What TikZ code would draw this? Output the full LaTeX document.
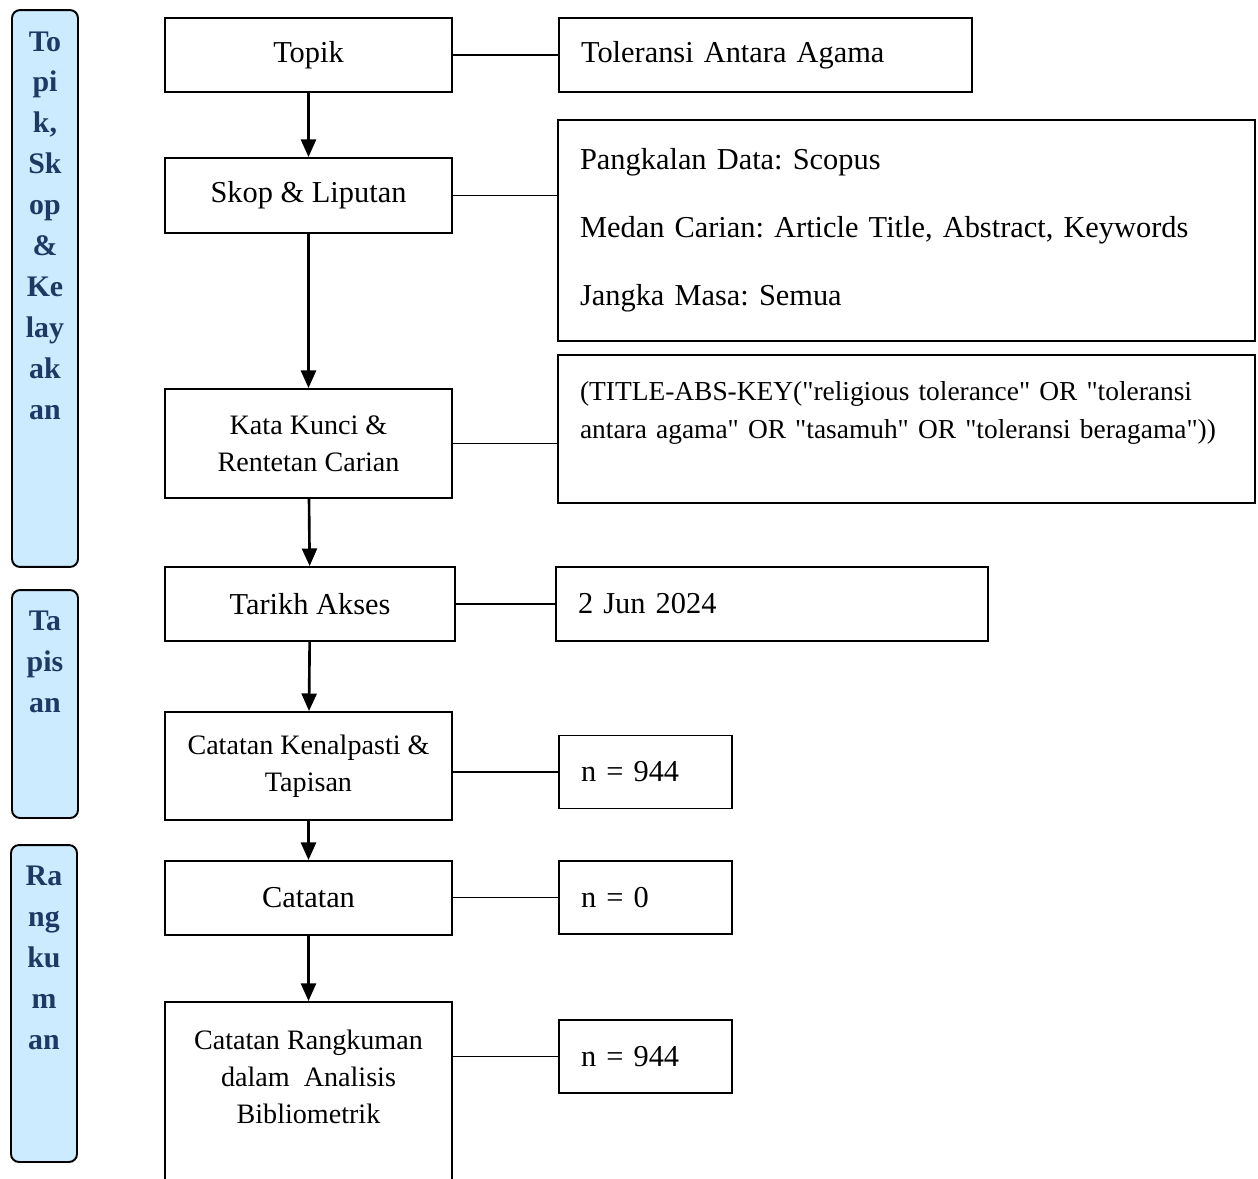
\documentclass[tikz,border=0pt]{standalone}
\usepackage{fontspec}
\setmainfont{Liberation Serif}
\newfontfamily\plainquotes{Liberation Serif}[Ligatures=TeXOff]
\usetikzlibrary{arrows.meta,positioning}
\definecolor{tagfill}{HTML}{CCEBFF}
\definecolor{tagtext}{HTML}{1F3864}
\newcommand{\bigfont}{\fontsize{17.3}{20.8}\selectfont\frenchspacing}
\newcommand{\midfont}{\fontsize{16}{21}\selectfont}

\begin{document}
\begin{tikzpicture}[x=0.02cm,y=-0.02cm,
    box/.style={draw,line width=1.1pt,align=center,minimum width=5.74cm,inner sep=0pt},
    rbox/.style={draw,line width=1.1pt,align=left,inner xsep=0.44cm,inner ysep=0pt,font=\bigfont},
    tag/.style={draw,line width=1.1pt,fill=tagfill,rounded corners=0.16cm,minimum width=1.32cm},
    tagtxt/.style={align=center,inner sep=0pt,text=tagtext,font=\bfseries\fontsize{17}{23.3}\selectfont},
    arr/.style={-{Triangle[length=10pt,width=8.5pt]},line width=1.5pt},
    conn/.style={line width=1pt}]
	   \useasboundingbox (0,0) rectangle (1258,1178);
	   % stages on the left
	   \node (s1) at (45,288.5) [tag,minimum height=11.14cm] {};
	   \node (s1txt) [tagtxt,below=0.44cm of s1.north]
	     {To\\pi\\k,\\Sk\\op\\\&\\Ke\\lay\\ak\\an};
	   \node (s2) at (45,704) [tag,minimum height=4.56cm] {};
	   \node (s2txt) [tagtxt,below=0.44cm of s2.north] {Ta\\pis\\an};
	   \node (s3) at (44,1003.5) [tag,minimum height=6.34cm] {};
	   \node (s3txt) [tagtxt,below=0.44cm of s3.north] {Ra\\ng\\ku\\m\\an};
	   % main steps
	   \node (t1) at (308.5,55) [box,minimum height=1.48cm,font=\bigfont] {Topik};
	   \node (t2) at (308.5,195.5) [box,minimum height=1.5cm,font=\bigfont] {Skop \& Liputan};
	   \node (t3) at (308.5,443.5) [box,minimum height=2.18cm,font=\midfont]
	     {Kata Kunci \&\\Rentetan Carian};
	   \node (t4) at (310,604) [box,minimum width=5.8cm,minimum height=1.48cm,font=\bigfont] {Tarikh Akses};
	   \node (t5) at (308.5,766) [box,minimum height=2.16cm,font=\midfont]
	     {Catatan Kenalpasti \&\\Tapisan};
	   \node (t6) at (308.5,898) [box,minimum height=1.48cm,font=\bigfont] {Catatan};
	   \node (t7) at (308.5,1001) [box,anchor=north,minimum height=4cm] {};
	   \node (t7txt) at (308.5,1077) [align=center,font=\midfont]
	     {Catatan Rangkuman\\dalam\ \ Analisis\\Bibliometrik};
	   % details on the right
	   \node (d1) at (765.5,55) [rbox,text width=7.38cm,minimum height=1.48cm] {Toleransi Antara Agama};
	   \node (d2) at (906.5,230.5) [rbox,text width=13.06cm,minimum height=4.42cm]
	     {Pangkalan Data: Scopus\\[18pt]Medan Carian: Article Title, Abstract, Keywords\\[18pt]Jangka Masa: Semua};
	   \node (d3) at (906.5,429) [rbox,text width=13.06cm,minimum height=2.96cm,
	     font=\plainquotes\fontsize{15.6}{21.6}\selectfont]
	     {\mbox{(TITLE-ABS-KEY("religious tolerance" OR "toleransi}\\
	      \mbox{antara agama" OR "tasamuh" OR "toleransi beragama"))}\\[-6pt]\strut};
	   \node (d4) at (772,604) [rbox,text width=7.76cm,minimum height=1.48cm] {2 Jun 2024};
	   \node (n5) at (645.5,772) [rbox,text width=2.58cm,minimum height=1.46cm] {n = 944};
	   \node (n6) at (645.5,897.5) [rbox,text width=2.58cm,minimum height=1.46cm] {n = 0};
	   \node (n7) at (645.5,1056.5) [rbox,text width=2.58cm,minimum height=1.46cm] {n = 944};
	   % arrows and links
	   \foreach \a/\b in {t1/t2,t2/t3,t3/t4,t4/t5,t5/t6,t6/t7}
	     \draw [arr] (\a) -- (\b);
	   \draw [conn]
	     (t1) -- (d1)
	     (t2) -- (t2 -| d2.west)
	     (t3) -- (t3 -| d3.west)
	     (t4) -- (t4 -| d4.west);
	   \draw [conn]
	     (n5 -| t5.east) -- (n5)
	     (n6 -| t6.east) -- (n6)
	     (n7 -| t7.east) -- (n7);
\end{tikzpicture}
\end{document}
